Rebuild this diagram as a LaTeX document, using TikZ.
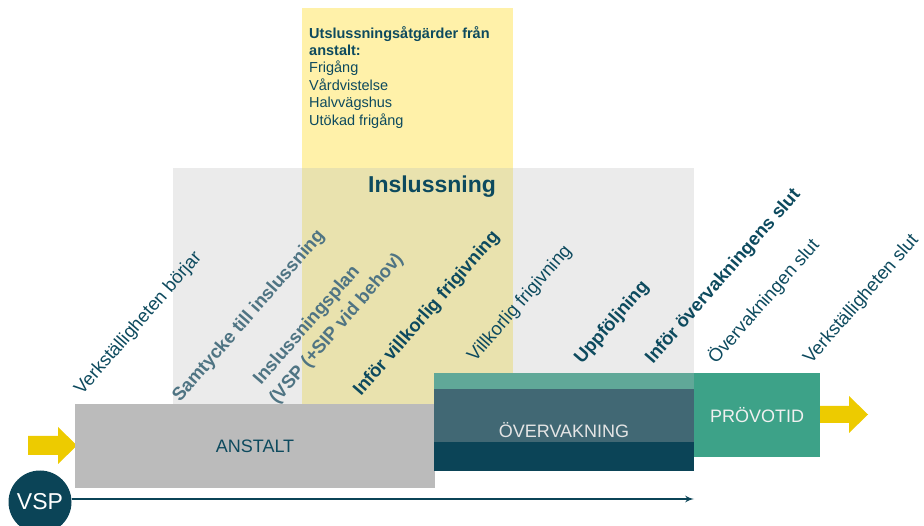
\documentclass[tikz,border=0pt]{standalone}
\usepackage{fontspec}
\setmainfont{Liberation Sans}
\usetikzlibrary{arrows}

\definecolor{darkteal}{HTML}{0B4457}
\definecolor{tealtext}{HTML}{0D4A5E}
\definecolor{fadedtext}{HTML}{4F7483}
\definecolor{greyzone}{HTML}{EBEBEB}
\definecolor{paleyellow}{HTML}{FFF1A9}
\definecolor{mixyellow}{HTML}{E9E2AE}
\definecolor{anstaltgrey}{HTML}{BBBBBB}
\definecolor{bandgreen}{HTML}{60A898}
\definecolor{bandmid}{HTML}{416874}
\definecolor{provgreen}{HTML}{3DA288}
\definecolor{arrowyellow}{HTML}{EDCB00}

\begin{document}
\begin{tikzpicture}[x=1pt,y=-1pt]

\tikzset{milestone/.style = {rotate=49, anchor=base west, inner sep=0, text=tealtext, font=\fontsize{18.5}{22}\selectfont}}
\tikzset{keystep/.style = {milestone, font=\fontsize{18.5}{22}\selectfont\bfseries}}
\tikzset{faded/.style = {keystep, text=fadedtext}}
\tikzset{phase/.style = {shape=rectangle, inner sep=0, font=\fontsize{18}{22}\selectfont}}
\tikzset{edge/.style = {-latex', line width=2pt, draw=darkteal}}

\useasboundingbox (0,0) rectangle (924,526);
\clip (0,0) rectangle (924,526);

%background
\fill[greyzone] (173,168) rectangle (694,405);
\fill[paleyellow] (302,8) rectangle (513,168);
\fill[mixyellow] (302,168) rectangle (513,405);
\node[anchor=north west, align=left, inner sep=0, text=tealtext, font=\fontsize{14.5}{17.4}\selectfont] (utsluss) at (309,26)
  {\textbf{Utslussningsåtgärder från}\\\textbf{anstalt:}\\Frigång\\Vårdvistelse\\Halvvägshus\\Utökad frigång};
\node[anchor=base, inner sep=0, text=tealtext, font=\fontsize{23}{27}\selectfont\bfseries] (inslussning) at (432,193) {Inslussning};

%arrows
\fill[arrowyellow] (28,436) -- (58,436) -- (58,427) -- (77,445.5) -- (58,464) -- (58,455) -- (28,455) -- cycle;
\fill[arrowyellow] (818,406) -- (849,406) -- (849,396) -- (868,414.5) -- (849,433) -- (849,423) -- (818,423) -- cycle;

%boxes
\node[phase, fill=anstaltgrey, minimum width=360, minimum height=84, text=tealtext] (anstalt) at (255,446) {ANSTALT};
\node[phase, fill=bandgreen, minimum width=260, minimum height=16, anchor=north west] (ovtop) at (434,373) {};
\node[phase, fill=bandmid, minimum width=260, minimum height=53, anchor=north west] (ovmid) at (434,389) {};
\node[phase, fill=darkteal, minimum width=260, minimum height=29, anchor=north west] (ovbot) at (434,442) {};
\node[phase, text=white!90!black] (overvakning) at (564,430) {ÖVERVAKNING};
\node[phase, fill=provgreen, minimum width=126, minimum height=84, text=white!94!black] (provotid) at (757,415) {PRÖVOTID};

%vsp
\node[circle, fill=darkteal, minimum size=63, inner sep=0, text=white, font=\fontsize{23}{27}\selectfont] (vsp) at (40,502) {VSP};
\coordinate (vspend) at (694,499);
\draw[edge] (vsp.east |- vspend) -- (vspend);

%labels
\node[milestone] (vstart) at (82,396) {Verkställigheten börjar};
\node[faded] (samtycke) at (180,403) {Samtycke till inslussning};
\node[faded] (plan) at (261,386) {Inslussningsplan};
\node[faded] (planvsp) at (277,405) {(VSP (+SIP vid behov)};
\node[keystep] (inforvf) at (361,397) {Inför villkorlig frigivning};
\node[milestone] (vfrigivning) at (475,363) {Villkorlig frigivning};
\node[keystep] (uppfoljning) at (582,365) {Uppföljning};
\node[keystep] (inforslut) at (653,365) {Inför övervakningens slut};
\node[milestone] (ovslut) at (716,365) {Övervakningen slut};
\node[milestone] (vslut) at (811,365) {Verkställigheten slut};

\end{tikzpicture}
\end{document}
